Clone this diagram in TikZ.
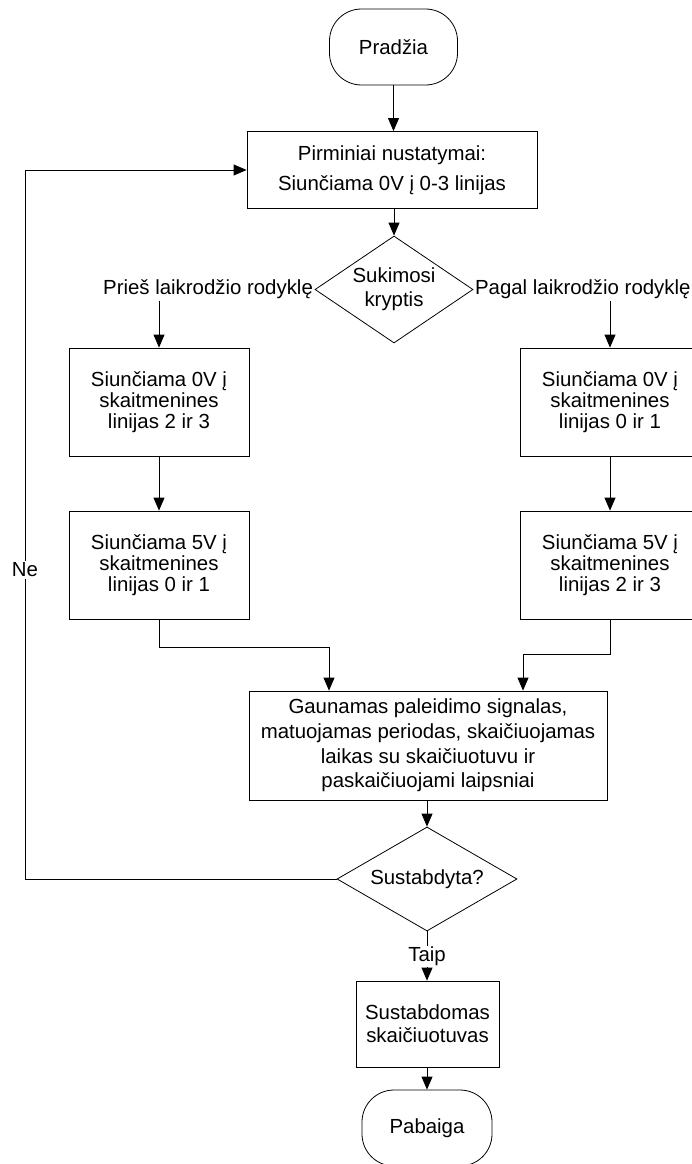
\documentclass[tikz,border=0pt]{standalone}
\usepackage{fontspec}
\setmainfont{Liberation Sans}
\usetikzlibrary{shapes.geometric,arrows.meta}
\begin{document}
\begin{tikzpicture}[x=1pt,y=-1pt,
  txt/.style={font=\fontsize{20.4}{24}\selectfont},
  base/.style={txt, draw=black, line width=0.8pt, align=center, inner sep=0pt},
  term/.style={base, rectangle, rounded corners=32pt, minimum width=128pt, minimum height=76pt},
  proc/.style={base, rectangle, minimum width=180pt, minimum height=108pt, font=\fontsize{20.4}{21}\selectfont},
  dec/.style={base, diamond},
  lbl/.style={txt, inner sep=1.5pt},
  arr/.style={line width=0.8pt, -{Triangle[length=13pt,width=11pt]}},
  wire/.style={line width=0.8pt}
]
\useasboundingbox (0,0) rectangle (691,1164);

% main column
\node[term] (start) at (393.5,47) {Pradžia};
\node[base, minimum width=290pt, minimum height=77pt, font=\fontsize{20.4}{30}\selectfont]
  (init) at (392,170) {Pirminiai nustatymai:\\Siunčiama 0V į 0-3 linijas};
\node[dec, aspect=1.477, minimum width=158pt, minimum height=107pt]
  (dir) at (394,289.5) {Sukimosi\\kryptis};

% branch labels
\node[lbl, anchor=east] (lblL) at (dir.west) {Prieš laikrodžio rodyklę};
\node[lbl, anchor=west] (lblR) at (dir.east) {Pagal laikrodžio rodyklę};

% counter-clockwise branch
\node[proc] (lb1) at (159,402) {Siunčiama 0V į\\skaitmenines\\linijas 2 ir 3};
\node[proc] (lb2) at (159,565) {Siunčiama 5V į\\skaitmenines\\linijas 0 ir 1};

% clockwise branch
\node[proc] (rb1) at (610,402) {Siunčiama 0V į\\skaitmenines\\linijas 0 ir 1};
\node[proc] (rb2) at (610,565) {Siunčiama 5V į\\skaitmenines\\linijas 2 ir 3};

% measurement and stop check
\node[base, minimum width=358pt, minimum height=109pt, font=\fontsize{20.4}{24.7}\selectfont]
  (big) at (428,745.5) {Gaunamas paleidimo signalas,\\matuojamas periodas, skaičiuojamas\\laikas su skaičiuotuvu ir\\paskaičiuojami laipsniai};
\node[dec, aspect=1.73, minimum width=180pt, minimum height=104pt]
  (stop) at (427,879) {Sustabdyta?};
\node[base, minimum width=143pt, minimum height=86pt, font=\fontsize{20.4}{23}\selectfont]
  (sbox) at (427.5,1024) {Sustabdomas\\skaičiuotuvas};
\node[term, minimum width=130pt] (end) at (427,1128) {Pabaiga};

% junction points
\coordinate (jL) at (329,647);
\coordinate (jR) at (523,654);
\coordinate (loopx) at (25,0);

% connectors
\draw[arr] (start.south) -- (init.north -| start.south);
\draw[arr] (init.south -| dir.north) -- (dir.north);
\draw[arr] (lblL.south -| lb1.north) -- (lb1.north);
\draw[arr] (lblR.south -| rb1.north) -- (rb1.north);
\draw[arr] (lb1.south) -- (lb2.north);
\draw[arr] (rb1.south) -- (rb2.north);
\draw[arr] (lb2.south) |- (jL) -- (big.north -| jL);
\draw[arr] (rb2.south) |- (jR) -- (big.north -| jR);
\draw[arr] (big.south -| stop.north) -- (stop.north);
\draw[arr] (stop.west) -- (stop.west -| loopx) -- (loopx |- init.west) -- (init.west);
\node[lbl, fill=white] (ne) at (25,570) {Ne};
\draw[arr] (stop.south) -- (sbox.north -| stop.south);
\node[lbl, fill=white, inner sep=1pt] (taip) at (427,956) {Taip};
\draw[arr] (sbox.south -| end.north) -- (end.north);
\end{tikzpicture}
\end{document}
